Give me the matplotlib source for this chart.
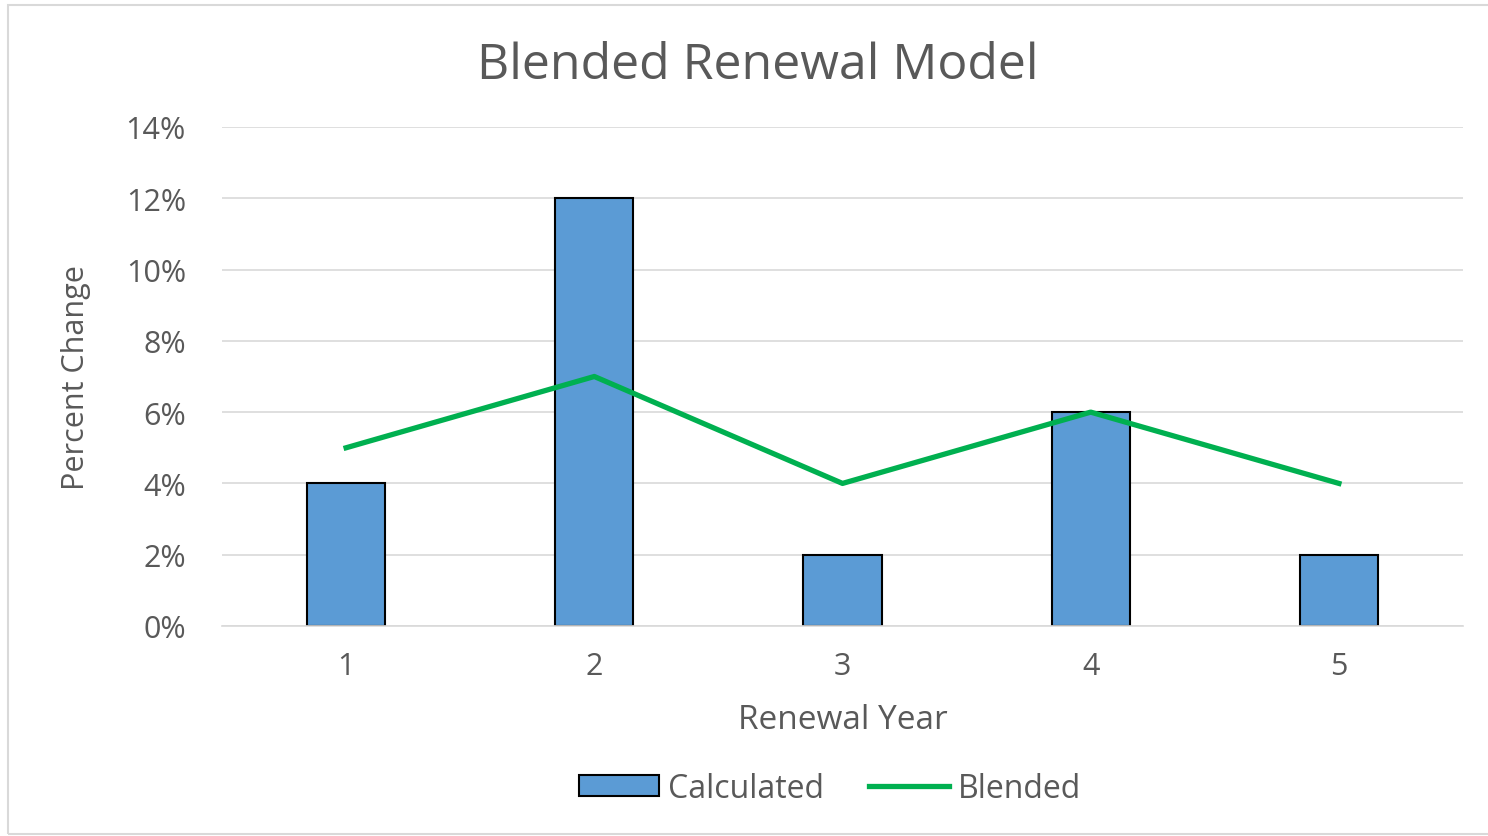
import numpy as np
import matplotlib
matplotlib.use('Agg')
import matplotlib.pyplot as plt
import matplotlib.ticker as mtick
import matplotlib.patches as mpatches

matplotlib.rcParams['font.family'] = ['Open Sans', 'DejaVu Sans']
matplotlib.rcParams['text.color'] = '#595959'
matplotlib.rcParams['axes.labelcolor'] = '#595959'
matplotlib.rcParams['xtick.color'] = '#595959'
matplotlib.rcParams['ytick.color'] = '#595959'

years = [1, 2, 3, 4, 5]
calculated = [4, 12, 2, 6, 2]
blended = [5, 7, 4, 6, 4]

fig = plt.figure(figsize=(14.88, 8.37), dpi=100)
ax = fig.add_axes([0.1492, 0.2509, 0.8340, 0.5962])

# outer chart frame
frame = mpatches.Rectangle((8 / 1488, 2 / 837), 1.0, 1 - 8 / 837, transform=fig.transFigure,
                           fill=False, edgecolor='#d9d9d9', linewidth=1.5, zorder=0)
fig.patches.append(frame)

bars = ax.bar(years, calculated, width=0.315, color='#5b9bd5', edgecolor='black', linewidth=1.5,
              label='Calculated', zorder=2)
line, = ax.plot(years, blended, color='#00b050', linewidth=3.8, label='Blended', zorder=3)

ax.set_xlim(0.5, 5.5)
ax.set_ylim(0, 14)
ax.set_yticks(range(0, 15, 2))
ax.set_xticks(years)
ax.yaxis.set_major_formatter(mtick.FuncFormatter(lambda v, p: '{:d}%'.format(int(v))))
ax.grid(axis='y', color='#d9d9d9', linewidth=1.2, zorder=0)
ax.set_axisbelow(True)
for s in ['top', 'right', 'left']:
    ax.spines[s].set_visible(False)
ax.spines['bottom'].set_color('#d9d9d9')
ax.spines['bottom'].set_linewidth(1.2)
ax.tick_params(axis='both', length=0, labelsize=22)
ax.tick_params(axis='y', pad=26)
ax.tick_params(axis='x', pad=18)

ax.set_xlabel('Renewal Year', fontsize=24, labelpad=16)
ax.set_ylabel('Percent Change', fontsize=22, labelpad=25)
fig.text(0.509, 0.921, 'Blended Renewal Model', ha='center', va='center', fontsize=36, color='#595959')

leg = ax.legend([bars, line], ['Calculated', 'Blended'], loc='center',
                bbox_to_anchor=(0.49, -0.325), ncol=2, frameon=False,
                fontsize=23, handlelength=2.5, handleheight=0.6, handletextpad=0.3,
                columnspacing=1.4)

plt.savefig('out.png', dpi=100)
